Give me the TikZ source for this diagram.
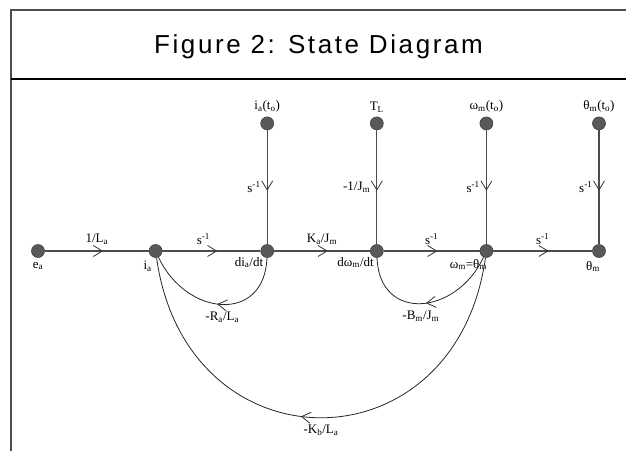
\documentclass[tikz,border=0pt]{standalone}
\usepackage{fontspec}
\setmainfont{Liberation Serif}
\newfontfamily\titlefont[LetterSpace=10]{Liberation Sans}
\usepackage{tikz}
\usetikzlibrary{arrows.meta,positioning,decorations.markings}

\begin{document}
\begin{tikzpicture}[
  x=1pt, y=-1pt,
  font=\fontsize{13}{15}\selectfont,
  dot/.style={circle, draw=black!75, fill=black!65, line width=0.6pt, minimum size=13pt, inner sep=0pt},
  lbl/.style={font=\fontsize{13}{15}\selectfont, inner sep=1pt},
  edge/.style={draw=black!70, line width=1.3pt},
  fb/.style={draw=black!85, line width=0.8pt},
  midarr/.style={postaction={decorate}, decoration={markings,
      mark=at position #1 with {\arrow[black!80, line width=0.8pt]{Straight Barb[length=9pt, width=11pt]}}}},
  elbl/.style={above=5pt, inner sep=1pt},
  vlbl/.style={left=5pt, inner sep=1pt},
  flbl/.style={below=6pt, inner sep=1pt}
]
  \useasboundingbox (0,0) rectangle (626,451);

  % frame and title
  \draw[black!70, line width=1.5pt] (11,451) -- (11,10) -- (626,10);
  \draw[black, line width=2pt] (11,79) -- (626,79);
  \node[font=\titlefont\fontsize{26}{29}\selectfont] (title) at (318.5,47) {Figure 2: State Diagram};

  % main row
  \node[dot, label={[lbl, label distance=3pt]below:e\textsubscript{a}}] (ea) at (38,251) {};
  \node[dot, right=104pt of ea, label={[lbl, label distance=2pt, xshift=-8pt]below:i\textsubscript{a}}] (ia) {};
  \node[dot, right=98pt of ia, label={[lbl, label distance=0pt, xshift=2pt]below left:di\textsubscript{a}/dt}] (dia) {};
  \node[dot, right=96pt of dia, label={[lbl, label distance=0pt, xshift=3pt]below left:dω\textsubscript{m}/dt}] (dwm) {};
  \node[dot, right=96pt of dwm, label={[lbl, label distance=0pt, xshift=-18pt]below:ω\textsubscript{m}=θ\textsubscript{m}}] (wm) {};
  \node[dot, right=99pt of wm, label={[lbl, label distance=2pt, xshift=-6pt]below:θ\textsubscript{m}}] (thm) {};

  % initial conditions and load
  \node[dot, above=114pt of dia, label={[lbl, label distance=3pt]above:i\textsubscript{a}(t\textsubscript{o})}] (iat) {};
  \node[dot, above=114pt of dwm, label={[lbl, label distance=3pt]above:T\textsubscript{L}}] (tl) {};
  \node[dot, above=114pt of wm, label={[lbl, label distance=3pt]above:ω\textsubscript{m}(t\textsubscript{o})}] (wmt) {};
  \node[dot, above=114pt of thm, label={[lbl, label distance=3pt]above:θ\textsubscript{m}(t\textsubscript{o})}] (tht) {};

  % forward path
  \draw[edge, midarr=0.56] (ea) -- node[elbl]{1/L\textsubscript{a}} (ia);
  \draw[edge, midarr=0.56] (ia) -- node[elbl, xshift=-8pt]{s\textsuperscript{-1}} (dia);
  \draw[edge, midarr=0.56] (dia) -- node[elbl]{K\textsubscript{a}/J\textsubscript{m}} (dwm);
  \draw[edge, midarr=0.56] (dwm) -- node[elbl]{s\textsuperscript{-1}} (wm);
  \draw[edge, midarr=0.56] (wm) -- node[elbl]{s\textsuperscript{-1}} (thm);

  % vertical inputs
  \draw[edge, midarr=0.53] (iat) -- node[vlbl]{s\textsuperscript{-1}} (dia);
  \draw[edge, midarr=0.53] (tl) -- node[vlbl]{-1/J\textsubscript{m}} (dwm);
  \draw[edge, midarr=0.53] (wmt) -- node[vlbl]{s\textsuperscript{-1}} (wm);
  \draw[edge, midarr=0.53] (tht) -- node[vlbl]{s\textsuperscript{-1}} (thm);

  % feedback loops
  \draw[fb, midarr=0.5] (dia) to[out=-92, in=-65, looseness=1.55] node[flbl]{-R\textsubscript{a}/L\textsubscript{a}} (ia);
  \draw[fb, midarr=0.5] (wm) to[out=-115, in=-88, looseness=1.55] node[flbl]{-B\textsubscript{m}/J\textsubscript{m}} (dwm);
  \draw[fb, midarr=0.54] (wm) to[out=-98, in=-82, looseness=1.68] node[flbl]{-K\textsubscript{b}/L\textsubscript{a}} (ia);
\end{tikzpicture}
\end{document}
